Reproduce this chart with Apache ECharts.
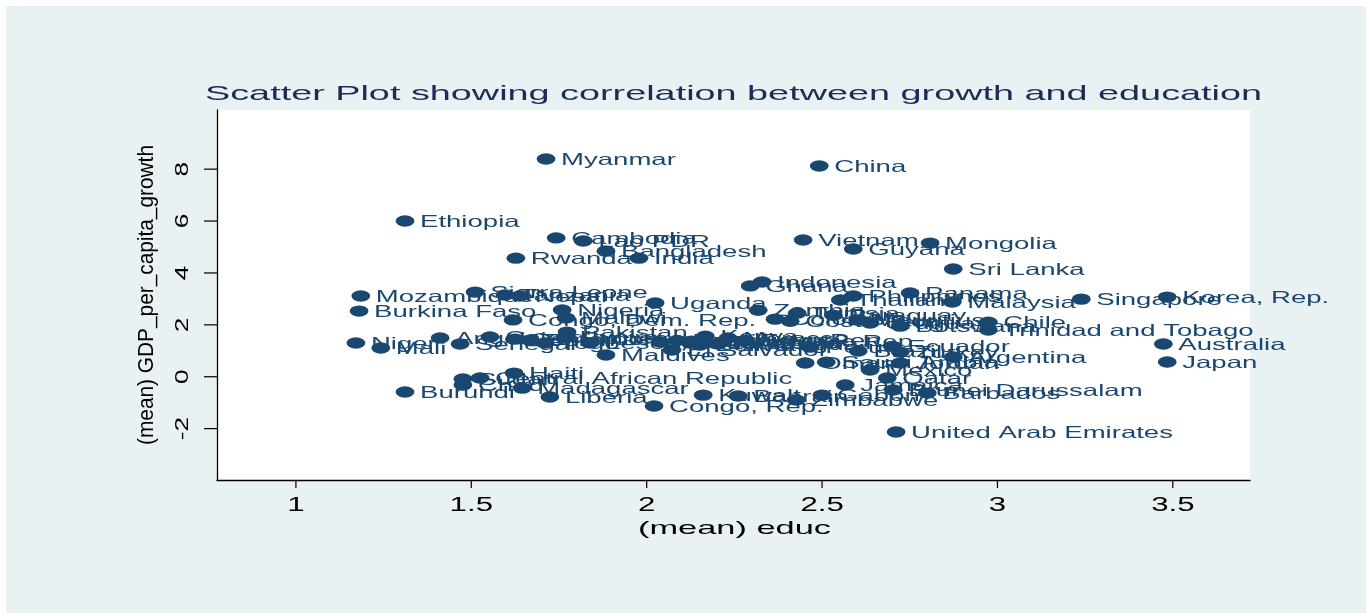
<!DOCTYPE html>
<html><head><meta charset="utf-8">
<script src="https://cdn.jsdelivr.net/npm/echarts@6/dist/echarts.min.js"></script>
<style>
html,body{margin:0;padding:0;background:#ffffff;width:1371px;height:613px;overflow:hidden}
#chart{position:absolute;left:6px;top:6px;width:1360px;height:607px}
</style>
</head><body><div id="chart"></div>
<script>
const countries = ["Myanmar","China","Ethiopia","Cambodia","Lao PDR","Bangladesh","Rwanda","India","Vietnam","Guyana","Mongolia","Sri Lanka","Indonesia","Ghana","Philippines","Thailand","Panama","Malaysia","Singapore","Korea, Rep.","Mozambique","Sierra Leone","Tanzania","Nepal","Burkina Faso","Nigeria","Uganda","Congo, Dem. Rep.","Malawi","Pakistan","Maldives","Niger","Mali","Angola","Senegal","Cote d'Ivoire","Cameroon","Benin","Togo","Guinea","Lesotho","Honduras","El Salvador","Dominican Rep.","Guatemala","Iran, Islamic Rep.","Bolivia","Kenya","Nicaragua","Morocco","Egypt","Peru","Brazil","Ecuador","Turkey","Argentina","Oman","Saudi Arabia","Jordan","Mexico","Qatar","Jamaica","Zambia","Tunisia","Paraguay","Colombia","Costa Rica","Mauritius","Uruguay","Botswana","Chile","Trinidad and Tobago","Australia","Japan","United Arab Emirates","Haiti","Sudan","Central African Republic","Chad","Madagascar","Liberia","Burundi","Congo, Rep.","Kuwait","Bahrain","Zimbabwe","Gabon","Brunei Darussalam","Barbados"];
const educ = [1.713,2.492,1.311,1.742,1.819,1.884,1.627,1.978,2.446,2.589,2.808,2.874,2.329,2.295,2.589,2.552,2.751,2.871,3.239,3.484,1.185,1.511,1.596,1.639,1.180,1.759,2.024,1.619,1.770,1.773,1.884,1.171,1.242,1.411,1.468,1.553,1.625,1.667,1.710,1.767,1.839,2.038,2.072,2.087,2.124,2.127,2.152,2.167,2.204,2.232,2.281,2.466,2.603,2.700,2.723,2.874,2.452,2.512,2.723,2.637,2.686,2.566,2.318,2.429,2.532,2.366,2.409,2.603,2.637,2.723,2.974,2.974,3.473,3.484,2.711,1.622,1.476,1.525,1.476,1.645,1.724,1.311,2.021,2.161,2.261,2.426,2.500,2.703,2.800];
const growth = [8.39,8.12,6.00,5.35,5.23,4.84,4.57,4.57,5.27,4.92,5.15,4.15,3.65,3.50,3.11,2.96,3.23,2.88,2.99,3.07,3.11,3.26,3.15,3.11,2.53,2.57,2.84,2.19,2.26,1.72,0.84,1.30,1.11,1.49,1.26,1.53,1.45,1.41,1.30,1.49,1.30,1.34,1.03,1.40,1.30,1.37,1.22,1.56,1.26,1.49,1.40,1.14,0.99,1.17,0.95,0.76,0.53,0.56,0.53,0.26,-0.05,-0.32,2.56,2.45,2.37,2.22,2.14,2.18,2.07,1.95,2.10,1.80,1.26,0.57,-2.13,0.14,-0.09,-0.05,-0.32,-0.44,-0.78,-0.59,-1.13,-0.71,-0.74,-0.90,-0.71,-0.51,-0.63];
const xTicks = [1, 1.5, 2, 2.5, 3, 3.5];
const xTickLabels = ["1", "1.5", "2", "2.5", "3", "3.5"];
const yTicks = [-2, 0, 2, 4, 6, 8];
const yTickLabels = ["-2", "0", "2", "4", "6", "8"];
const titleText = "Scatter Plot showing correlation between growth and education";
const xTitle = "(mean) educ";
const yTitle = "(mean) GDP_per_capita_growth";

const X_MIN = 0.775, X_MAX = 3.72, Y_MIN = -3.98, Y_MAX = 10.28;
const FONT = "'Liberation Sans', Arial, Helvetica, sans-serif";
const NAVY = "#1a476f";
const STRETCH = 1.67;

function fitScale(text, size, target) {
  const ctx = document.createElement('canvas').getContext('2d');
  ctx.font = size + "px 'Liberation Sans', Arial, sans-serif";
  return target / ctx.measureText(text).width;
}

const chart = echarts.init(document.getElementById('chart'), null, {renderer: 'canvas'});

const option = {
  animation: false,
  backgroundColor: '#e9f1f3',
  grid: {left: 211, top: 104, right: 116, bottom: 133, show: true, backgroundColor: '#ffffff', borderWidth: 0},
  xAxis: {
    type: 'value', min: X_MIN, max: X_MAX,
    axisLine: {show: true, onZero: false, lineStyle: {color: '#000', width: 1.3}},
    axisTick: {show: false}, axisLabel: {show: false}, splitLine: {show: false}
  },
  yAxis: {
    type: 'value', min: Y_MIN, max: Y_MAX,
    axisLine: {show: true, onZero: false, lineStyle: {color: '#000', width: 1.3}},
    axisTick: {show: false}, axisLabel: {show: false}, splitLine: {show: false}
  },
  graphic: [
    {type: 'text', x: 727.5, y: 88, scaleX: fitScale(titleText, 21, 1057),
     style: {text: titleText, fontSize: 21, fontFamily: FONT, fill: '#1c2b58', align: 'center', verticalAlign: 'middle'}},
    {type: 'text', x: 728.5, y: 523, scaleX: fitScale(xTitle, 19, 193),
     style: {text: xTitle, fontSize: 19, fontFamily: FONT, fill: '#000', align: 'center', verticalAlign: 'middle'}},
    {type: 'text', x: 141, y: 289, rotation: Math.PI / 2, scaleX: fitScale(yTitle, 22, 300),
     style: {text: yTitle, fontSize: 22, fontFamily: FONT, fill: '#000', align: 'center', verticalAlign: 'middle'}}
  ],
  series: [
    {
      type: 'custom', name: 'countries', clip: false,
      data: countries.map((c, i) => [educ[i], growth[i]]),
      renderItem: function (params, api) {
        const p = api.coord([api.value(0), api.value(1)]);
        return {
          type: 'group',
          children: [
            {type: 'circle', x: p[0], y: p[1], scaleX: 1.65, shape: {cx: 0, cy: 0, r: 5.7}, style: {fill: NAVY}},
            {type: 'text', x: p[0] + 15, y: p[1] + 1.5, scaleX: STRETCH,
             style: {text: countries[params.dataIndex], x: 0, y: 0, fontSize: 16.5, fontFamily: FONT, fill: NAVY, align: 'left', verticalAlign: 'middle'}}
          ]
        };
      }
    },
    {
      type: 'custom', name: 'xTicks', clip: false,
      data: xTicks.map(v => [v, Y_MIN]),
      renderItem: function (params, api) {
        const p = api.coord([api.value(0), api.value(1)]);
        return {
          type: 'group',
          children: [
            {type: 'line', shape: {x1: p[0], y1: p[1], x2: p[0], y2: p[1] + 8}, style: {stroke: '#000', lineWidth: 1.2}},
            {type: 'text', x: p[0], y: p[1] + 26, scaleX: 1.6,
             style: {text: xTickLabels[params.dataIndex], x: 0, y: 0, fontSize: 19.5, fontFamily: FONT, fill: '#000', align: 'center', verticalAlign: 'middle'}}
          ]
        };
      }
    },
    {
      type: 'custom', name: 'yTicks', clip: false,
      data: yTicks.map(v => [X_MIN, v]),
      renderItem: function (params, api) {
        const p = api.coord([api.value(0), api.value(1)]);
        return {
          type: 'group',
          children: [
            {type: 'line', shape: {x1: p[0], y1: p[1], x2: p[0] - 13, y2: p[1]}, style: {stroke: '#000', lineWidth: 1.2}},
            {type: 'text', x: p[0] - 34, y: p[1], rotation: Math.PI / 2, scaleX: 1.5,
             style: {text: yTickLabels[params.dataIndex], x: 0, y: 0, fontSize: 17.5, fontFamily: FONT, fill: '#000', align: 'center', verticalAlign: 'middle'}}
          ]
        };
      }
    }
  ]
};
chart.setOption(option);
</script>
</body></html>
